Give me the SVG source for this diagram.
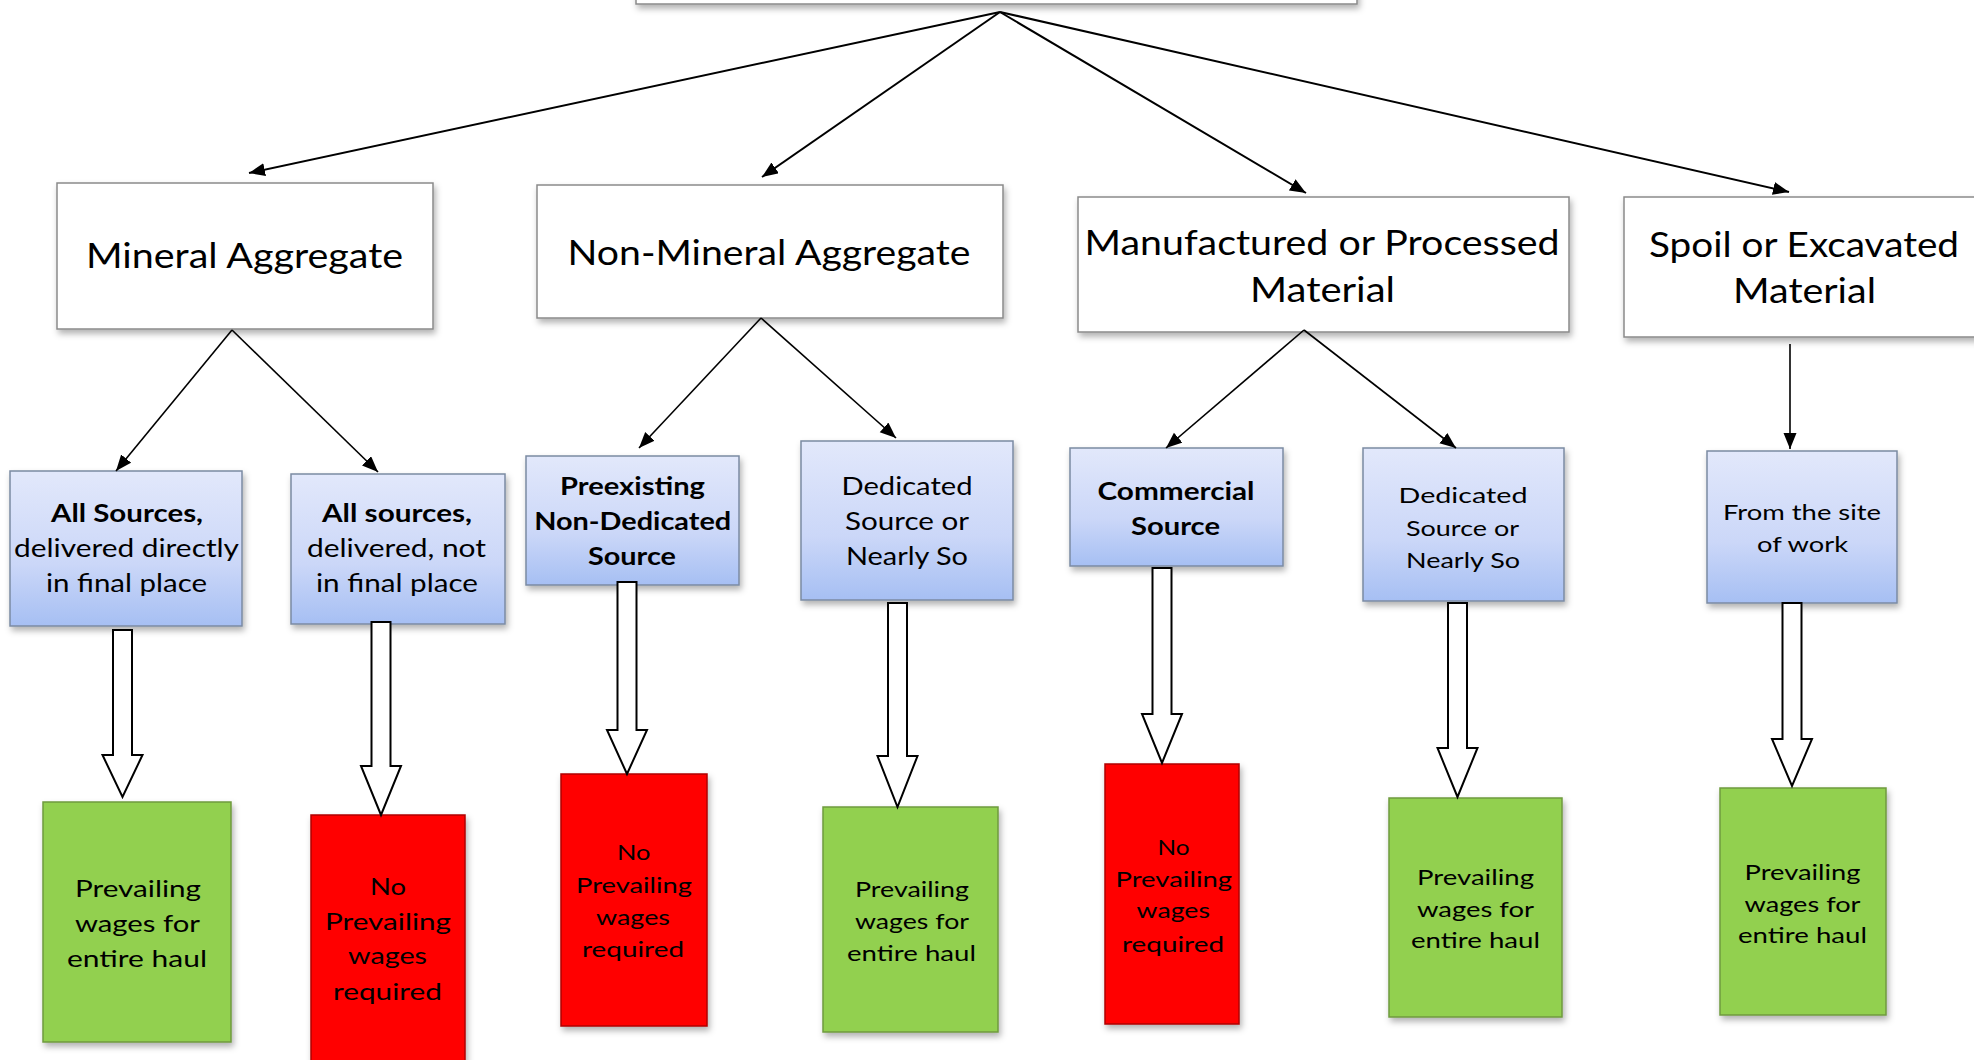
<svg xmlns="http://www.w3.org/2000/svg" width="1974" height="1060" viewBox="0 0 1974 1060">
<style>
  .wbox{fill:#ffffff;stroke:#8a8a8a;stroke-width:1.5}
  .bbox{fill:url(#blue);stroke:#7b8aa3;stroke-width:1.5}
  .gbox{fill:#92d050;stroke:#6f9a3f;stroke-width:1.5}
  .rbox{fill:#ff0000;stroke:#b00000;stroke-width:1.5}
  .conn{stroke:#000;stroke-width:2;fill:none}
  .conn2{stroke:#000;stroke-width:1.6;fill:none}
  .blk{fill:#ffffff;stroke:#000;stroke-width:2;stroke-linejoin:miter}
  text{font-family:Lato,"Open Sans","Liberation Sans",sans-serif;fill:#000;text-anchor:middle}
  .t1{font-size:35px}
  .t2{font-size:25px}
  .t2b{font-size:25px;font-weight:bold}
  .t3{font-size:22px}
  .t4{font-size:24px}
  .t5{font-size:22px}
</style>
<defs>
  <linearGradient id="blue" x1="0" y1="0" x2="0" y2="1">
    <stop offset="0" stop-color="#e2e8fb"/>
    <stop offset="0.6" stop-color="#cbd7f8"/>
    <stop offset="1" stop-color="#a6bff3"/>
  </linearGradient>
  <filter id="sh" x="-10%" y="-10%" width="130%" height="130%">
    <feDropShadow dx="2" dy="4" stdDeviation="3" flood-color="#000" flood-opacity="0.3"/>
  </filter>
  <marker id="ah" markerUnits="userSpaceOnUse" markerWidth="18" markerHeight="14" refX="16" refY="6.5" orient="auto">
    <path d="M0,0 L16,6.5 L0,13 z" fill="#000"/>
  </marker>
</defs>
<rect width="1974" height="1060" fill="#ffffff"/>

<g id="root"><rect class="wbox" x="636" y="-60" width="721" height="64" filter="url(#sh)"/></g>

<g id="n-mineral"><rect class="wbox" x="57" y="183" width="376" height="146" filter="url(#sh)"/>
  <text class="t1" x="244.5" y="268" textLength="317" lengthAdjust="spacingAndGlyphs">Mineral Aggregate</text></g>
<g id="n-nonmineral"><rect class="wbox" x="537" y="185" width="466" height="133" filter="url(#sh)"/>
  <text class="t1" x="769" y="265" textLength="403" lengthAdjust="spacingAndGlyphs">Non-Mineral Aggregate</text></g>
<g id="n-manufactured"><rect class="wbox" x="1078" y="197" width="491" height="135" filter="url(#sh)"/>
  <text class="t1" x="1322" y="255" textLength="475" lengthAdjust="spacingAndGlyphs">Manufactured or Processed</text>
  <text class="t1" x="1322.5" y="302" textLength="145" lengthAdjust="spacingAndGlyphs">Material</text></g>
<g id="n-spoil"><rect class="wbox" x="1624" y="197" width="370" height="140" filter="url(#sh)"/>
  <text class="t1" x="1804" y="257" textLength="310" lengthAdjust="spacingAndGlyphs">Spoil or Excavated</text>
  <text class="t1" x="1804.5" y="303" textLength="143" lengthAdjust="spacingAndGlyphs">Material</text></g>

<g id="s-all1"><rect class="bbox" x="10" y="471" width="232" height="155" filter="url(#sh)"/>
  <text class="t2b" x="127" y="522" textLength="152" lengthAdjust="spacingAndGlyphs">All Sources,</text>
  <text class="t2" x="126.5" y="557" textLength="225" lengthAdjust="spacingAndGlyphs">delivered directly</text>
  <text class="t2" x="126.5" y="592" textLength="161" lengthAdjust="spacingAndGlyphs">in final place</text></g>
<g id="s-all2"><rect class="bbox" x="291" y="474" width="214" height="150" filter="url(#sh)"/>
  <text class="t2b" x="397" y="522" textLength="150" lengthAdjust="spacingAndGlyphs">All sources,</text>
  <text class="t2" x="396.5" y="557" textLength="179" lengthAdjust="spacingAndGlyphs">delivered, not</text>
  <text class="t2" x="397" y="592" textLength="162" lengthAdjust="spacingAndGlyphs">in final place</text></g>
<g id="s-preexisting"><rect class="bbox" x="526" y="456" width="213" height="129" filter="url(#sh)"/>
  <text class="t2b" x="632.5" y="495" textLength="145" lengthAdjust="spacingAndGlyphs">Preexisting</text>
  <text class="t2b" x="632.7" y="530" textLength="197" lengthAdjust="spacingAndGlyphs">Non-Dedicated</text>
  <text class="t2b" x="632" y="565" textLength="88" lengthAdjust="spacingAndGlyphs">Source</text></g>
<g id="s-dedicated1"><rect class="bbox" x="801" y="441" width="212" height="159" filter="url(#sh)"/>
  <text class="t2" x="907" y="495" textLength="131" lengthAdjust="spacingAndGlyphs">Dedicated</text>
  <text class="t2" x="907" y="530" textLength="124" lengthAdjust="spacingAndGlyphs">Source or</text>
  <text class="t2" x="907" y="565" textLength="122" lengthAdjust="spacingAndGlyphs">Nearly So</text></g>
<g id="s-commercial"><rect class="bbox" x="1070" y="448" width="213" height="118" filter="url(#sh)"/>
  <text class="t2b" x="1176" y="500" textLength="157" lengthAdjust="spacingAndGlyphs">Commercial</text>
  <text class="t2b" x="1175.5" y="535" textLength="89" lengthAdjust="spacingAndGlyphs">Source</text></g>
<g id="s-dedicated2"><rect class="bbox" x="1363" y="448" width="201" height="153" filter="url(#sh)"/>
  <text class="t3" x="1463" y="503" textLength="129" lengthAdjust="spacingAndGlyphs">Dedicated</text>
  <text class="t3" x="1462.5" y="536" textLength="113" lengthAdjust="spacingAndGlyphs">Source or</text>
  <text class="t3" x="1463" y="568" textLength="114" lengthAdjust="spacingAndGlyphs">Nearly So</text></g>
<g id="s-site"><rect class="bbox" x="1707" y="451" width="190" height="152" filter="url(#sh)"/>
  <text class="t3" x="1802" y="520" textLength="158" lengthAdjust="spacingAndGlyphs">From the site</text>
  <text class="t3" x="1802.5" y="552" textLength="91" lengthAdjust="spacingAndGlyphs">of work</text></g>

<g id="r-g1"><rect class="gbox" x="43" y="802" width="188" height="240" filter="url(#sh)"/>
  <text class="t4" x="138" y="897" textLength="126" lengthAdjust="spacingAndGlyphs">Prevailing</text>
  <text class="t4" x="137.5" y="932" textLength="125" lengthAdjust="spacingAndGlyphs">wages for</text>
  <text class="t4" x="137" y="967" textLength="140" lengthAdjust="spacingAndGlyphs">entire haul</text></g>
<g id="r-r2"><rect class="rbox" x="311" y="815" width="154" height="260" filter="url(#sh)"/>
  <text class="t4" x="388" y="895" textLength="36" lengthAdjust="spacingAndGlyphs">No</text>
  <text class="t4" x="388" y="930" textLength="126" lengthAdjust="spacingAndGlyphs">Prevailing</text>
  <text class="t4" x="387.5" y="964" textLength="79" lengthAdjust="spacingAndGlyphs">wages</text>
  <text class="t4" x="387.5" y="1000" textLength="109" lengthAdjust="spacingAndGlyphs">required</text></g>
<g id="r-r3"><rect class="rbox" x="561" y="774" width="146" height="252" filter="url(#sh)"/>
  <text class="t5" x="633.7" y="860" textLength="33.5" lengthAdjust="spacingAndGlyphs">No</text>
  <text class="t5" x="634" y="893" textLength="116" lengthAdjust="spacingAndGlyphs">Prevailing</text>
  <text class="t5" x="633" y="925" textLength="74" lengthAdjust="spacingAndGlyphs">wages</text>
  <text class="t5" x="633" y="957" textLength="102" lengthAdjust="spacingAndGlyphs">required</text></g>
<g id="r-g4"><rect class="gbox" x="823" y="807" width="175" height="225" filter="url(#sh)"/>
  <text class="t5" x="912" y="897" textLength="114" lengthAdjust="spacingAndGlyphs">Prevailing</text>
  <text class="t5" x="912" y="929" textLength="114" lengthAdjust="spacingAndGlyphs">wages for</text>
  <text class="t5" x="911.5" y="961" textLength="129" lengthAdjust="spacingAndGlyphs">entire haul</text></g>
<g id="r-r5"><rect class="rbox" x="1105" y="764" width="134" height="260" filter="url(#sh)"/>
  <text class="t5" x="1173.6" y="855" textLength="32" lengthAdjust="spacingAndGlyphs">No</text>
  <text class="t5" x="1173.8" y="887" textLength="116.7" lengthAdjust="spacingAndGlyphs">Prevailing</text>
  <text class="t5" x="1173.3" y="918" textLength="73.4" lengthAdjust="spacingAndGlyphs">wages</text>
  <text class="t5" x="1173" y="952" textLength="102" lengthAdjust="spacingAndGlyphs">required</text></g>
<g id="r-g6"><rect class="gbox" x="1389" y="798" width="173" height="219" filter="url(#sh)"/>
  <text class="t5" x="1475.5" y="885" textLength="117" lengthAdjust="spacingAndGlyphs">Prevailing</text>
  <text class="t5" x="1475.5" y="917" textLength="117" lengthAdjust="spacingAndGlyphs">wages for</text>
  <text class="t5" x="1475.5" y="948" textLength="129" lengthAdjust="spacingAndGlyphs">entire haul</text></g>
<g id="r-g7"><rect class="gbox" x="1720" y="788" width="166" height="227" filter="url(#sh)"/>
  <text class="t5" x="1802.5" y="880" textLength="116" lengthAdjust="spacingAndGlyphs">Prevailing</text>
  <text class="t5" x="1802.5" y="912" textLength="116" lengthAdjust="spacingAndGlyphs">wages for</text>
  <text class="t5" x="1802.5" y="943" textLength="129" lengthAdjust="spacingAndGlyphs">entire haul</text></g>

<g id="connectors">
  <line class="conn" x1="1000" y1="12" x2="249" y2="173" marker-end="url(#ah)"/>
  <line class="conn" x1="1000" y1="12" x2="762" y2="177" marker-end="url(#ah)"/>
  <line class="conn" x1="1000" y1="12" x2="1306" y2="193" marker-end="url(#ah)"/>
  <line class="conn" x1="1000" y1="12" x2="1789" y2="192" marker-end="url(#ah)"/>
  <line class="conn2" x1="232" y1="330" x2="116" y2="471" marker-end="url(#ah)"/>
  <line class="conn2" x1="232" y1="330" x2="378" y2="472" marker-end="url(#ah)"/>
  <line class="conn2" x1="761" y1="318" x2="639" y2="448" marker-end="url(#ah)"/>
  <line class="conn2" x1="761" y1="318" x2="896" y2="438" marker-end="url(#ah)"/>
  <line class="conn2" x1="1304" y1="330" x2="1166" y2="448" marker-end="url(#ah)"/>
  <line class="conn2" x1="1304" y1="330" x2="1456" y2="448" marker-end="url(#ah)"/>
  <line class="conn2" x1="1790" y1="344" x2="1790" y2="449" marker-end="url(#ah)"/>
  <polygon class="blk" points="113,630 132,630 132,755 142.5,755 122.5,797 102.5,755 113,755"/>
  <polygon class="blk" points="371.5,622 390.5,622 390.5,766 401,766 381,815 361,766 371.5,766"/>
  <polygon class="blk" points="617.5,582 636.5,582 636.5,730 647,730 627,774 607,730 617.5,730"/>
  <polygon class="blk" points="888,603 907,603 907,756 917.5,756 897.5,807 877.5,756 888,756"/>
  <polygon class="blk" points="1152.5,568 1171.5,568 1171.5,714 1182,714 1162,763 1142,714 1152.5,714"/>
  <polygon class="blk" points="1448,603 1467,603 1467,748 1477.5,748 1457.5,797 1437.5,748 1448,748"/>
  <polygon class="blk" points="1782.5,603 1801.5,603 1801.5,739 1812,739 1792,786 1772,739 1782.5,739"/>
</g>
</svg>
